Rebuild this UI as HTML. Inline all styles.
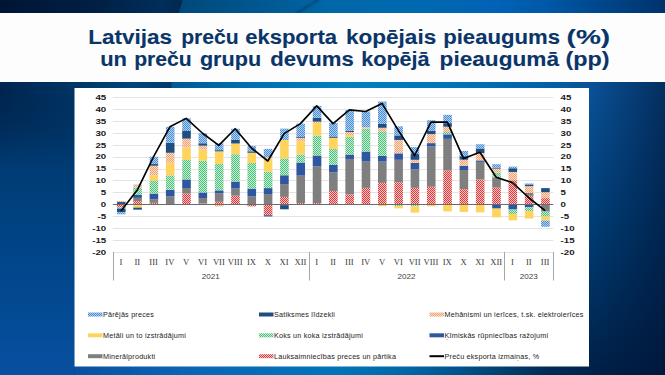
<!DOCTYPE html>
<html><head><meta charset="utf-8"><style>
html,body{margin:0;padding:0;width:665px;height:375px;overflow:hidden;}
body{position:relative;font-family:"Liberation Sans",sans-serif;background:#003a78;}
#bg{position:absolute;left:0;top:0;width:665px;height:375px;}
#band{position:absolute;left:0;top:13px;width:665px;height:68.7px;background:#fdfdfd;}
.t{position:absolute;right:54px;transform:scaleX(1.172);transform-origin:100% 50%;font-weight:bold;color:#08386c;font-size:19.5px;white-space:nowrap;line-height:20px;-webkit-text-stroke:0.35px #08386c;}
#panel{position:absolute;left:75px;top:88px;width:514px;height:278px;background:#fff;}
#chart{position:absolute;left:0;top:0;}
.tt{font-family:"Liberation Sans",sans-serif;font-weight:bold;font-size:19.5px;fill:#0a3568;stroke:#0a3568;stroke-width:0.12px;}
.ax{font-family:"Liberation Sans",sans-serif;font-weight:bold;font-size:7.6px;fill:#1a1a1a;}
.cat{font-family:"Liberation Sans",sans-serif;font-size:8.1px;fill:#404040;}
.rom{font-family:"Liberation Serif",serif;font-size:8.6px;fill:#3a3a3a;}
.lg{font-family:"Liberation Sans",sans-serif;font-size:7.2px;fill:#222;letter-spacing:0.22px;}
</style></head><body>
<svg id="bg" width="665" height="375" viewBox="0 0 665 375">
<defs>
<linearGradient id="gTop" x1="0" y1="0" x2="665" y2="0" gradientUnits="userSpaceOnUse">
<stop offset="0.27" stop-color="#00487a"/><stop offset="0.44" stop-color="#005e9a"/>
<stop offset="0.5" stop-color="#0068a8"/><stop offset="0.63" stop-color="#0068b0"/><stop offset="0.75" stop-color="#0062b5"/>
<stop offset="0.82" stop-color="#0058a8"/><stop offset="1" stop-color="#00326c"/>
</linearGradient>
<linearGradient id="gTopL" x1="0" y1="0" x2="183" y2="0" gradientUnits="userSpaceOnUse">
<stop offset="0" stop-color="#001535"/><stop offset="0.5" stop-color="#001f42"/><stop offset="0.88" stop-color="#002e5a"/><stop offset="1" stop-color="#002850"/>
</linearGradient>
<linearGradient id="gFadeV" x1="0" y1="0" x2="0" y2="1"><stop offset="0" stop-color="#fff" stop-opacity="1"/><stop offset="1" stop-color="#fff" stop-opacity="0"/></linearGradient>
<mask id="mFade" maskUnits="userSpaceOnUse" x="0" y="88" width="75" height="80"><rect x="0" y="88" width="75" height="80" fill="url(#gFadeV)"/></mask>
<filter id="blur1" x="-20%" y="-50%" width="140%" height="200%"><feGaussianBlur stdDeviation="0.8"/></filter>
<linearGradient id="gStrip" x1="0" y1="0" x2="665" y2="0" gradientUnits="userSpaceOnUse">
<stop offset="0" stop-color="#002550"/><stop offset="0.113" stop-color="#003565"/><stop offset="0.2" stop-color="#004676"/>
<stop offset="0.257" stop-color="#003a6a"/><stop offset="0.259" stop-color="#005a95"/><stop offset="0.376" stop-color="#0070b0"/>
<stop offset="0.526" stop-color="#0080c0"/><stop offset="0.677" stop-color="#0075b8"/><stop offset="0.827" stop-color="#0060a8"/>
<stop offset="0.887" stop-color="#0a5096"/><stop offset="1" stop-color="#00305f"/>
</linearGradient>
<linearGradient id="gLeft" x1="0" y1="88" x2="0" y2="375" gradientUnits="userSpaceOnUse">
<stop offset="0" stop-color="#002752"/><stop offset="0.22" stop-color="#003a70"/><stop offset="0.6" stop-color="#00468a"/><stop offset="1" stop-color="#0850a0"/>
</linearGradient>
<linearGradient id="gRight" x1="0" y1="88" x2="0" y2="375" gradientUnits="userSpaceOnUse">
<stop offset="0" stop-color="#0a5298"/><stop offset="0.45" stop-color="#003f78"/><stop offset="1" stop-color="#002048"/>
</linearGradient>
<linearGradient id="gRightH" x1="589" y1="0" x2="665" y2="0" gradientUnits="userSpaceOnUse">
<stop offset="0" stop-color="#001030" stop-opacity="0"/><stop offset="1" stop-color="#001030" stop-opacity="0.55"/>
</linearGradient>
<linearGradient id="gBot" x1="0" y1="0" x2="665" y2="0" gradientUnits="userSpaceOnUse"><stop offset="0.000" stop-color="#0a4f9a"/><stop offset="0.113" stop-color="#0a50a0"/><stop offset="0.301" stop-color="#0a66b6"/><stop offset="0.501" stop-color="#0074b8"/><stop offset="0.602" stop-color="#0068a8"/><stop offset="0.677" stop-color="#005590"/><stop offset="0.752" stop-color="#004070"/><stop offset="0.827" stop-color="#002a55"/><stop offset="1.000" stop-color="#001a3a"/></linearGradient>
</defs>
<rect x="0" y="0" width="665" height="375" fill="#003a72"/>
<rect x="0" y="0" width="665" height="13" fill="url(#gTop)"/>
<line x1="296" y1="13.5" x2="319" y2="-0.5" stroke="#00406e" stroke-width="1.6" filter="url(#blur1)"/>
<polygon points="0,0 182.6,0 178.7,13 0,13" fill="url(#gTopL)"/>
<rect x="0" y="81" width="665" height="7" fill="url(#gStrip)"/>
<rect x="0" y="88" width="74.5" height="287" fill="url(#gLeft)"/>
<rect x="0" y="88" width="74.5" height="80" fill="url(#gStrip)" mask="url(#mFade)"/>
<rect x="589" y="88" width="76" height="287" fill="url(#gRight)"/>
<rect x="589" y="88" width="76" height="287" fill="url(#gRightH)"/>
<rect x="74.5" y="366" width="514.5" height="9" fill="url(#gBot)"/>
</svg>
<div id="band"></div>
<svg width="665" height="375" style="position:absolute;left:0;top:0;"><text x="88.20" y="44.1" textLength="83.80" lengthAdjust="spacingAndGlyphs" class="tt">Latvijas</text><text x="181.20" y="44.1" textLength="57.60" lengthAdjust="spacingAndGlyphs" class="tt">preču</text><text x="245.20" y="44.1" textLength="91.80" lengthAdjust="spacingAndGlyphs" class="tt">eksporta</text><text x="346.00" y="44.1" textLength="90.20" lengthAdjust="spacingAndGlyphs" class="tt">kopējais</text><text x="443.20" y="44.1" textLength="116.80" lengthAdjust="spacingAndGlyphs" class="tt">pieaugums</text><text x="566.60" y="44.1" textLength="43.60" lengthAdjust="spacingAndGlyphs" class="tt">(%)</text><text x="100.20" y="65.7" textLength="26.80" lengthAdjust="spacingAndGlyphs" class="tt">un</text><text x="134.20" y="65.7" textLength="57.60" lengthAdjust="spacingAndGlyphs" class="tt">preču</text><text x="199.90" y="65.7" textLength="61.20" lengthAdjust="spacingAndGlyphs" class="tt">grupu</text><text x="270.20" y="65.7" textLength="83.60" lengthAdjust="spacingAndGlyphs" class="tt">devums</text><text x="361.20" y="65.7" textLength="68.40" lengthAdjust="spacingAndGlyphs" class="tt">kopējā</text><text x="439.60" y="65.7" textLength="119.40" lengthAdjust="spacingAndGlyphs" class="tt">pieaugumā</text><text x="565.50" y="65.7" textLength="44.10" lengthAdjust="spacingAndGlyphs" class="tt">(pp)</text></svg>
<svg id="chart" width="665" height="375" viewBox="0 0 665 375" style="position:absolute;left:0;top:0;">
<defs><pattern id="pBlue" width="2" height="2" patternUnits="userSpaceOnUse"><rect width="2" height="2" fill="#b0d0f0"/><rect width="1" height="1" fill="#4a8ed6"/><rect x="1" y="1" width="1" height="1" fill="#4a8ed6"/></pattern><pattern id="pGreen" width="2" height="2" patternUnits="userSpaceOnUse"><rect width="2" height="2" fill="#c8eed8"/><rect width="1" height="1" fill="#4cc078"/><rect x="1" y="1" width="1" height="1" fill="#4cc078"/></pattern><pattern id="pOrange" width="2" height="2" patternUnits="userSpaceOnUse"><rect width="2" height="2" fill="#fde0cc"/><rect width="1" height="1" fill="#f0a070"/><rect x="1" y="1" width="1" height="1" fill="#f0a070"/></pattern><pattern id="pRed" width="2" height="2" patternUnits="userSpaceOnUse"><rect width="2" height="2" fill="#f8c8c8"/><rect width="1" height="1" fill="#e03838"/><rect x="1" y="1" width="1" height="1" fill="#e03838"/></pattern></defs>
<rect x="74.5" y="88" width="514.5" height="278.5" fill="#ffffff"/>
<line x1="112.8" y1="252.5" x2="553.3" y2="252.5" stroke="#e4e4e4" stroke-width="1"/>
<line x1="112.8" y1="240.5" x2="553.3" y2="240.5" stroke="#e4e4e4" stroke-width="1"/>
<line x1="112.8" y1="228.5" x2="553.3" y2="228.5" stroke="#e4e4e4" stroke-width="1"/>
<line x1="112.8" y1="216.5" x2="553.3" y2="216.5" stroke="#e4e4e4" stroke-width="1"/>
<line x1="112.8" y1="192.5" x2="553.3" y2="192.5" stroke="#e4e4e4" stroke-width="1"/>
<line x1="112.8" y1="180.5" x2="553.3" y2="180.5" stroke="#e4e4e4" stroke-width="1"/>
<line x1="112.8" y1="169.5" x2="553.3" y2="169.5" stroke="#e4e4e4" stroke-width="1"/>
<line x1="112.8" y1="157.5" x2="553.3" y2="157.5" stroke="#e4e4e4" stroke-width="1"/>
<line x1="112.8" y1="145.5" x2="553.3" y2="145.5" stroke="#e4e4e4" stroke-width="1"/>
<line x1="112.8" y1="133.5" x2="553.3" y2="133.5" stroke="#e4e4e4" stroke-width="1"/>
<line x1="112.8" y1="121.5" x2="553.3" y2="121.5" stroke="#e4e4e4" stroke-width="1"/>
<line x1="112.8" y1="109.5" x2="553.3" y2="109.5" stroke="#e4e4e4" stroke-width="1"/>
<line x1="112.8" y1="97.5" x2="553.3" y2="97.5" stroke="#e4e4e4" stroke-width="1"/>
<rect x="116.96" y="204.30" width="8.6" height="3.21" fill="url(#pRed)"/>
<rect x="116.96" y="201.92" width="8.6" height="2.38" fill="#2f56a0"/>
<rect x="116.96" y="207.51" width="8.6" height="1.07" fill="url(#pGreen)"/>
<rect x="116.96" y="200.97" width="8.6" height="0.95" fill="url(#pOrange)"/>
<rect x="116.96" y="208.58" width="8.6" height="3.57" fill="#1f4f82"/>
<rect x="116.96" y="212.15" width="8.6" height="2.14" fill="url(#pBlue)"/>
<rect x="133.27" y="201.09" width="8.6" height="3.21" fill="url(#pRed)"/>
<rect x="133.27" y="197.87" width="8.6" height="3.21" fill="#7f7f7f"/>
<rect x="133.27" y="194.66" width="8.6" height="3.21" fill="#2f56a0"/>
<rect x="133.27" y="187.76" width="8.6" height="6.90" fill="url(#pGreen)"/>
<rect x="133.27" y="204.30" width="8.6" height="3.33" fill="#ffd45c"/>
<rect x="133.27" y="185.14" width="8.6" height="2.62" fill="url(#pOrange)"/>
<rect x="133.27" y="207.63" width="8.6" height="2.02" fill="#1f4f82"/>
<rect x="133.27" y="184.67" width="8.6" height="0.48" fill="url(#pBlue)"/>
<rect x="149.59" y="202.87" width="8.6" height="1.43" fill="url(#pRed)"/>
<rect x="149.59" y="199.30" width="8.6" height="3.57" fill="#7f7f7f"/>
<rect x="149.59" y="193.59" width="8.6" height="5.71" fill="#2f56a0"/>
<rect x="149.59" y="180.50" width="8.6" height="13.09" fill="url(#pGreen)"/>
<rect x="149.59" y="175.26" width="8.6" height="5.24" fill="#ffd45c"/>
<rect x="149.59" y="165.74" width="8.6" height="9.52" fill="url(#pOrange)"/>
<rect x="149.59" y="164.08" width="8.6" height="1.67" fill="#1f4f82"/>
<rect x="149.59" y="156.70" width="8.6" height="7.38" fill="url(#pBlue)"/>
<rect x="165.90" y="196.45" width="8.6" height="7.85" fill="#7f7f7f"/>
<rect x="165.90" y="189.78" width="8.6" height="6.66" fill="#2f56a0"/>
<rect x="165.90" y="175.38" width="8.6" height="14.40" fill="url(#pGreen)"/>
<rect x="165.90" y="162.77" width="8.6" height="12.61" fill="#ffd45c"/>
<rect x="165.90" y="152.77" width="8.6" height="10.00" fill="url(#pOrange)"/>
<rect x="165.90" y="142.78" width="8.6" height="10.00" fill="#1f4f82"/>
<rect x="165.90" y="126.83" width="8.6" height="15.95" fill="url(#pBlue)"/>
<rect x="182.22" y="193.59" width="8.6" height="10.71" fill="url(#pRed)"/>
<rect x="182.22" y="188.00" width="8.6" height="5.59" fill="#7f7f7f"/>
<rect x="182.22" y="179.43" width="8.6" height="8.57" fill="#2f56a0"/>
<rect x="182.22" y="160.03" width="8.6" height="19.40" fill="url(#pGreen)"/>
<rect x="182.22" y="147.42" width="8.6" height="12.61" fill="#ffd45c"/>
<rect x="182.22" y="138.61" width="8.6" height="8.81" fill="url(#pOrange)"/>
<rect x="182.22" y="131.00" width="8.6" height="7.62" fill="#1f4f82"/>
<rect x="182.22" y="118.38" width="8.6" height="12.61" fill="url(#pBlue)"/>
<rect x="198.53" y="203.59" width="8.6" height="0.71" fill="url(#pRed)"/>
<rect x="198.53" y="197.99" width="8.6" height="5.59" fill="#7f7f7f"/>
<rect x="198.53" y="192.52" width="8.6" height="5.47" fill="#2f56a0"/>
<rect x="198.53" y="160.87" width="8.6" height="31.65" fill="url(#pGreen)"/>
<rect x="198.53" y="149.68" width="8.6" height="11.19" fill="#ffd45c"/>
<rect x="198.53" y="145.63" width="8.6" height="4.05" fill="url(#pOrange)"/>
<rect x="198.53" y="143.25" width="8.6" height="2.38" fill="#1f4f82"/>
<rect x="198.53" y="133.26" width="8.6" height="10.00" fill="url(#pBlue)"/>
<rect x="214.85" y="201.80" width="8.6" height="2.50" fill="url(#pRed)"/>
<rect x="214.85" y="193.23" width="8.6" height="8.57" fill="#7f7f7f"/>
<rect x="214.85" y="190.38" width="8.6" height="2.86" fill="#2f56a0"/>
<rect x="214.85" y="163.96" width="8.6" height="26.42" fill="url(#pGreen)"/>
<rect x="214.85" y="151.35" width="8.6" height="12.61" fill="#ffd45c"/>
<rect x="214.85" y="204.30" width="8.6" height="2.14" fill="url(#pOrange)"/>
<rect x="214.85" y="150.16" width="8.6" height="1.19" fill="#1f4f82"/>
<rect x="214.85" y="143.25" width="8.6" height="6.90" fill="url(#pBlue)"/>
<rect x="231.16" y="195.73" width="8.6" height="8.57" fill="url(#pRed)"/>
<rect x="231.16" y="188.47" width="8.6" height="7.26" fill="#7f7f7f"/>
<rect x="231.16" y="181.57" width="8.6" height="6.90" fill="#2f56a0"/>
<rect x="231.16" y="154.20" width="8.6" height="27.37" fill="url(#pGreen)"/>
<rect x="231.16" y="143.49" width="8.6" height="10.71" fill="#ffd45c"/>
<rect x="231.16" y="139.92" width="8.6" height="3.57" fill="#1f4f82"/>
<rect x="231.16" y="128.74" width="8.6" height="11.19" fill="url(#pBlue)"/>
<rect x="247.48" y="204.30" width="8.6" height="2.14" fill="url(#pRed)"/>
<rect x="247.48" y="196.21" width="8.6" height="8.09" fill="#7f7f7f"/>
<rect x="247.48" y="188.59" width="8.6" height="7.62" fill="#2f56a0"/>
<rect x="247.48" y="163.01" width="8.6" height="25.59" fill="url(#pGreen)"/>
<rect x="247.48" y="152.77" width="8.6" height="10.23" fill="#ffd45c"/>
<rect x="247.48" y="151.34" width="8.6" height="1.43" fill="#1f4f82"/>
<rect x="247.48" y="145.87" width="8.6" height="5.47" fill="url(#pBlue)"/>
<rect x="263.79" y="204.30" width="8.6" height="10.95" fill="url(#pRed)"/>
<rect x="263.79" y="194.07" width="8.6" height="10.23" fill="#7f7f7f"/>
<rect x="263.79" y="188.12" width="8.6" height="5.95" fill="#2f56a0"/>
<rect x="263.79" y="171.69" width="8.6" height="16.42" fill="url(#pGreen)"/>
<rect x="263.79" y="158.60" width="8.6" height="13.09" fill="#ffd45c"/>
<rect x="263.79" y="157.18" width="8.6" height="1.43" fill="url(#pOrange)"/>
<rect x="263.79" y="215.25" width="8.6" height="1.19" fill="#1f4f82"/>
<rect x="263.79" y="148.85" width="8.6" height="8.33" fill="url(#pBlue)"/>
<rect x="280.11" y="196.92" width="8.6" height="7.38" fill="url(#pRed)"/>
<rect x="280.11" y="184.07" width="8.6" height="12.85" fill="#7f7f7f"/>
<rect x="280.11" y="175.26" width="8.6" height="8.81" fill="#2f56a0"/>
<rect x="280.11" y="158.37" width="8.6" height="16.90" fill="url(#pGreen)"/>
<rect x="280.11" y="140.04" width="8.6" height="18.33" fill="#ffd45c"/>
<rect x="280.11" y="204.30" width="8.6" height="0.83" fill="url(#pOrange)"/>
<rect x="280.11" y="205.13" width="8.6" height="4.16" fill="#1f4f82"/>
<rect x="280.11" y="128.62" width="8.6" height="11.42" fill="url(#pBlue)"/>
<rect x="296.42" y="202.99" width="8.6" height="1.31" fill="url(#pRed)"/>
<rect x="296.42" y="175.62" width="8.6" height="27.37" fill="#7f7f7f"/>
<rect x="296.42" y="162.53" width="8.6" height="13.09" fill="#2f56a0"/>
<rect x="296.42" y="154.44" width="8.6" height="8.09" fill="url(#pGreen)"/>
<rect x="296.42" y="141.23" width="8.6" height="13.21" fill="#ffd45c"/>
<rect x="296.42" y="137.90" width="8.6" height="3.33" fill="url(#pOrange)"/>
<rect x="296.42" y="137.06" width="8.6" height="0.83" fill="#1f4f82"/>
<rect x="296.42" y="123.62" width="8.6" height="13.45" fill="url(#pBlue)"/>
<rect x="312.74" y="203.11" width="8.6" height="1.19" fill="url(#pRed)"/>
<rect x="312.74" y="166.22" width="8.6" height="36.89" fill="#7f7f7f"/>
<rect x="312.74" y="155.51" width="8.6" height="10.71" fill="#2f56a0"/>
<rect x="312.74" y="135.52" width="8.6" height="19.99" fill="url(#pGreen)"/>
<rect x="312.74" y="123.02" width="8.6" height="12.50" fill="#ffd45c"/>
<rect x="312.74" y="121.60" width="8.6" height="1.43" fill="url(#pOrange)"/>
<rect x="312.74" y="117.79" width="8.6" height="3.81" fill="#1f4f82"/>
<rect x="312.74" y="105.89" width="8.6" height="11.90" fill="url(#pBlue)"/>
<rect x="329.05" y="190.97" width="8.6" height="13.33" fill="url(#pRed)"/>
<rect x="329.05" y="172.41" width="8.6" height="18.56" fill="#7f7f7f"/>
<rect x="329.05" y="164.91" width="8.6" height="7.50" fill="#2f56a0"/>
<rect x="329.05" y="148.97" width="8.6" height="15.95" fill="url(#pGreen)"/>
<rect x="329.05" y="137.78" width="8.6" height="11.19" fill="#ffd45c"/>
<rect x="329.05" y="204.30" width="8.6" height="0.71" fill="url(#pOrange)"/>
<rect x="329.05" y="136.47" width="8.6" height="1.31" fill="#1f4f82"/>
<rect x="329.05" y="122.90" width="8.6" height="13.57" fill="url(#pBlue)"/>
<rect x="345.36" y="194.42" width="8.6" height="9.88" fill="url(#pRed)"/>
<rect x="345.36" y="158.96" width="8.6" height="35.46" fill="#7f7f7f"/>
<rect x="345.36" y="154.56" width="8.6" height="4.40" fill="#2f56a0"/>
<rect x="345.36" y="136.83" width="8.6" height="17.73" fill="url(#pGreen)"/>
<rect x="345.36" y="135.04" width="8.6" height="1.78" fill="#ffd45c"/>
<rect x="345.36" y="131.95" width="8.6" height="3.09" fill="url(#pOrange)"/>
<rect x="345.36" y="130.76" width="8.6" height="1.19" fill="#1f4f82"/>
<rect x="345.36" y="109.93" width="8.6" height="20.83" fill="url(#pBlue)"/>
<rect x="361.68" y="187.88" width="8.6" height="16.42" fill="url(#pRed)"/>
<rect x="361.68" y="161.58" width="8.6" height="26.30" fill="#7f7f7f"/>
<rect x="361.68" y="151.58" width="8.6" height="10.00" fill="#2f56a0"/>
<rect x="361.68" y="128.74" width="8.6" height="22.85" fill="url(#pGreen)"/>
<rect x="361.68" y="127.07" width="8.6" height="1.67" fill="url(#pOrange)"/>
<rect x="361.68" y="111.48" width="8.6" height="15.59" fill="url(#pBlue)"/>
<rect x="377.99" y="182.88" width="8.6" height="21.42" fill="url(#pRed)"/>
<rect x="377.99" y="161.58" width="8.6" height="21.30" fill="#7f7f7f"/>
<rect x="377.99" y="155.87" width="8.6" height="5.71" fill="#2f56a0"/>
<rect x="377.99" y="131.23" width="8.6" height="24.63" fill="url(#pGreen)"/>
<rect x="377.99" y="204.30" width="8.6" height="1.90" fill="#ffd45c"/>
<rect x="377.99" y="127.78" width="8.6" height="3.45" fill="url(#pOrange)"/>
<rect x="377.99" y="123.98" width="8.6" height="3.81" fill="#1f4f82"/>
<rect x="377.99" y="101.48" width="8.6" height="22.49" fill="url(#pBlue)"/>
<rect x="394.31" y="182.17" width="8.6" height="22.13" fill="url(#pRed)"/>
<rect x="394.31" y="159.79" width="8.6" height="22.37" fill="#7f7f7f"/>
<rect x="394.31" y="153.37" width="8.6" height="6.43" fill="#2f56a0"/>
<rect x="394.31" y="204.30" width="8.6" height="1.90" fill="url(#pGreen)"/>
<rect x="394.31" y="206.20" width="8.6" height="2.14" fill="#ffd45c"/>
<rect x="394.31" y="139.92" width="8.6" height="13.45" fill="url(#pOrange)"/>
<rect x="394.31" y="135.40" width="8.6" height="4.52" fill="#1f4f82"/>
<rect x="394.31" y="126.36" width="8.6" height="9.04" fill="url(#pBlue)"/>
<rect x="410.62" y="187.88" width="8.6" height="16.42" fill="url(#pRed)"/>
<rect x="410.62" y="169.31" width="8.6" height="18.56" fill="#7f7f7f"/>
<rect x="410.62" y="163.01" width="8.6" height="6.31" fill="#2f56a0"/>
<rect x="410.62" y="204.30" width="8.6" height="2.14" fill="url(#pGreen)"/>
<rect x="410.62" y="206.44" width="8.6" height="6.19" fill="#ffd45c"/>
<rect x="410.62" y="159.79" width="8.6" height="3.21" fill="url(#pOrange)"/>
<rect x="410.62" y="154.08" width="8.6" height="5.71" fill="#1f4f82"/>
<rect x="410.62" y="147.18" width="8.6" height="6.90" fill="url(#pBlue)"/>
<rect x="426.94" y="186.81" width="8.6" height="17.49" fill="url(#pRed)"/>
<rect x="426.94" y="146.59" width="8.6" height="40.22" fill="#7f7f7f"/>
<rect x="426.94" y="143.13" width="8.6" height="3.45" fill="#2f56a0"/>
<rect x="426.94" y="204.30" width="8.6" height="2.02" fill="#ffd45c"/>
<rect x="426.94" y="134.09" width="8.6" height="9.04" fill="url(#pOrange)"/>
<rect x="426.94" y="130.88" width="8.6" height="3.21" fill="#1f4f82"/>
<rect x="426.94" y="120.17" width="8.6" height="10.71" fill="url(#pBlue)"/>
<rect x="443.25" y="170.50" width="8.6" height="33.80" fill="url(#pRed)"/>
<rect x="443.25" y="138.85" width="8.6" height="31.65" fill="#7f7f7f"/>
<rect x="443.25" y="134.33" width="8.6" height="4.52" fill="#2f56a0"/>
<rect x="443.25" y="131.95" width="8.6" height="2.38" fill="url(#pGreen)"/>
<rect x="443.25" y="204.30" width="8.6" height="7.14" fill="#ffd45c"/>
<rect x="443.25" y="126.71" width="8.6" height="5.24" fill="url(#pOrange)"/>
<rect x="443.25" y="123.14" width="8.6" height="3.57" fill="#1f4f82"/>
<rect x="443.25" y="114.81" width="8.6" height="8.33" fill="url(#pBlue)"/>
<rect x="459.57" y="189.19" width="8.6" height="15.11" fill="url(#pRed)"/>
<rect x="459.57" y="170.03" width="8.6" height="19.16" fill="#7f7f7f"/>
<rect x="459.57" y="165.74" width="8.6" height="4.28" fill="#2f56a0"/>
<rect x="459.57" y="204.30" width="8.6" height="7.62" fill="#ffd45c"/>
<rect x="459.57" y="159.68" width="8.6" height="6.07" fill="url(#pOrange)"/>
<rect x="459.57" y="156.22" width="8.6" height="3.45" fill="#1f4f82"/>
<rect x="459.57" y="150.99" width="8.6" height="5.24" fill="url(#pBlue)"/>
<rect x="475.88" y="179.55" width="8.6" height="24.75" fill="url(#pRed)"/>
<rect x="475.88" y="161.82" width="8.6" height="17.73" fill="#7f7f7f"/>
<rect x="475.88" y="160.39" width="8.6" height="1.43" fill="#2f56a0"/>
<rect x="475.88" y="204.30" width="8.6" height="8.09" fill="#ffd45c"/>
<rect x="475.88" y="153.01" width="8.6" height="7.38" fill="url(#pOrange)"/>
<rect x="475.88" y="148.49" width="8.6" height="4.52" fill="#1f4f82"/>
<rect x="475.88" y="144.21" width="8.6" height="4.28" fill="url(#pBlue)"/>
<rect x="492.20" y="187.64" width="8.6" height="16.66" fill="url(#pRed)"/>
<rect x="492.20" y="177.29" width="8.6" height="10.35" fill="#7f7f7f"/>
<rect x="492.20" y="204.30" width="8.6" height="4.28" fill="#2f56a0"/>
<rect x="492.20" y="172.88" width="8.6" height="4.40" fill="url(#pGreen)"/>
<rect x="492.20" y="208.58" width="8.6" height="8.81" fill="#ffd45c"/>
<rect x="492.20" y="168.60" width="8.6" height="4.28" fill="url(#pOrange)"/>
<rect x="492.20" y="167.65" width="8.6" height="0.95" fill="#1f4f82"/>
<rect x="492.20" y="164.20" width="8.6" height="3.45" fill="url(#pBlue)"/>
<rect x="508.51" y="180.26" width="8.6" height="24.04" fill="url(#pRed)"/>
<rect x="508.51" y="204.30" width="8.6" height="5.24" fill="#2f56a0"/>
<rect x="508.51" y="209.54" width="8.6" height="4.40" fill="url(#pGreen)"/>
<rect x="508.51" y="213.94" width="8.6" height="6.43" fill="#ffd45c"/>
<rect x="508.51" y="171.93" width="8.6" height="8.33" fill="url(#pOrange)"/>
<rect x="508.51" y="168.24" width="8.6" height="3.69" fill="#1f4f82"/>
<rect x="508.51" y="166.58" width="8.6" height="1.67" fill="url(#pBlue)"/>
<rect x="524.83" y="195.85" width="8.6" height="8.45" fill="url(#pRed)"/>
<rect x="524.83" y="193.00" width="8.6" height="2.86" fill="#7f7f7f"/>
<rect x="524.83" y="204.30" width="8.6" height="2.97" fill="#2f56a0"/>
<rect x="524.83" y="207.28" width="8.6" height="3.69" fill="url(#pGreen)"/>
<rect x="524.83" y="210.96" width="8.6" height="7.62" fill="#ffd45c"/>
<rect x="524.83" y="186.09" width="8.6" height="6.90" fill="url(#pOrange)"/>
<rect x="524.83" y="184.43" width="8.6" height="1.67" fill="#1f4f82"/>
<rect x="524.83" y="183.48" width="8.6" height="0.95" fill="url(#pBlue)"/>
<rect x="541.14" y="198.11" width="8.6" height="6.19" fill="url(#pRed)"/>
<rect x="541.14" y="204.30" width="8.6" height="7.38" fill="#7f7f7f"/>
<rect x="541.14" y="211.68" width="8.6" height="4.88" fill="url(#pGreen)"/>
<rect x="541.14" y="216.56" width="8.6" height="4.05" fill="#ffd45c"/>
<rect x="541.14" y="192.16" width="8.6" height="5.95" fill="url(#pOrange)"/>
<rect x="541.14" y="188.12" width="8.6" height="4.05" fill="#1f4f82"/>
<rect x="541.14" y="220.60" width="8.6" height="6.19" fill="url(#pBlue)"/>
<line x1="112.8" y1="204.5" x2="553.3" y2="204.5" stroke="#6b6b6b" stroke-width="1"/>
<polyline points="120.96,210.96 137.27,190.02 153.59,156.70 169.90,126.83 186.22,118.38 202.53,133.26 218.85,145.40 235.16,128.74 251.48,148.01 267.79,160.98 284.11,133.61 300.42,123.62 316.74,105.89 333.05,123.62 349.36,109.93 365.68,111.48 381.99,103.39 398.31,130.40 414.62,155.51 430.94,122.19 447.25,121.95 463.57,158.60 479.88,152.30 496.20,177.29 512.51,182.64 528.83,197.76 545.14,210.61" fill="none" stroke="#000" stroke-width="1.65" stroke-linejoin="round"/>
<g transform="translate(106.2,254.60) scale(1.28,1)"><text x="0" y="0" class="ax" text-anchor="end">-20</text></g>
<g transform="translate(560.6,254.60) scale(1.28,1)"><text x="0" y="0" class="ax" text-anchor="start">-20</text></g>
<g transform="translate(106.2,242.70) scale(1.28,1)"><text x="0" y="0" class="ax" text-anchor="end">-15</text></g>
<g transform="translate(560.6,242.70) scale(1.28,1)"><text x="0" y="0" class="ax" text-anchor="start">-15</text></g>
<g transform="translate(106.2,230.80) scale(1.28,1)"><text x="0" y="0" class="ax" text-anchor="end">-10</text></g>
<g transform="translate(560.6,230.80) scale(1.28,1)"><text x="0" y="0" class="ax" text-anchor="start">-10</text></g>
<g transform="translate(106.2,218.90) scale(1.28,1)"><text x="0" y="0" class="ax" text-anchor="end">-5</text></g>
<g transform="translate(560.6,218.90) scale(1.28,1)"><text x="0" y="0" class="ax" text-anchor="start">-5</text></g>
<g transform="translate(106.2,207.00) scale(1.28,1)"><text x="0" y="0" class="ax" text-anchor="end">0</text></g>
<g transform="translate(560.6,207.00) scale(1.28,1)"><text x="0" y="0" class="ax" text-anchor="start">0</text></g>
<g transform="translate(106.2,195.10) scale(1.28,1)"><text x="0" y="0" class="ax" text-anchor="end">5</text></g>
<g transform="translate(560.6,195.10) scale(1.28,1)"><text x="0" y="0" class="ax" text-anchor="start">5</text></g>
<g transform="translate(106.2,183.20) scale(1.28,1)"><text x="0" y="0" class="ax" text-anchor="end">10</text></g>
<g transform="translate(560.6,183.20) scale(1.28,1)"><text x="0" y="0" class="ax" text-anchor="start">10</text></g>
<g transform="translate(106.2,171.30) scale(1.28,1)"><text x="0" y="0" class="ax" text-anchor="end">15</text></g>
<g transform="translate(560.6,171.30) scale(1.28,1)"><text x="0" y="0" class="ax" text-anchor="start">15</text></g>
<g transform="translate(106.2,159.40) scale(1.28,1)"><text x="0" y="0" class="ax" text-anchor="end">20</text></g>
<g transform="translate(560.6,159.40) scale(1.28,1)"><text x="0" y="0" class="ax" text-anchor="start">20</text></g>
<g transform="translate(106.2,147.50) scale(1.28,1)"><text x="0" y="0" class="ax" text-anchor="end">25</text></g>
<g transform="translate(560.6,147.50) scale(1.28,1)"><text x="0" y="0" class="ax" text-anchor="start">25</text></g>
<g transform="translate(106.2,135.60) scale(1.28,1)"><text x="0" y="0" class="ax" text-anchor="end">30</text></g>
<g transform="translate(560.6,135.60) scale(1.28,1)"><text x="0" y="0" class="ax" text-anchor="start">30</text></g>
<g transform="translate(106.2,123.70) scale(1.28,1)"><text x="0" y="0" class="ax" text-anchor="end">35</text></g>
<g transform="translate(560.6,123.70) scale(1.28,1)"><text x="0" y="0" class="ax" text-anchor="start">35</text></g>
<g transform="translate(106.2,111.80) scale(1.28,1)"><text x="0" y="0" class="ax" text-anchor="end">40</text></g>
<g transform="translate(560.6,111.80) scale(1.28,1)"><text x="0" y="0" class="ax" text-anchor="start">40</text></g>
<g transform="translate(106.2,99.90) scale(1.28,1)"><text x="0" y="0" class="ax" text-anchor="end">45</text></g>
<g transform="translate(560.6,99.90) scale(1.28,1)"><text x="0" y="0" class="ax" text-anchor="start">45</text></g>
<line x1="113.5" y1="252" x2="113.5" y2="280.5" stroke="#a6a6a6" stroke-width="1"/>
<line x1="309.5" y1="252" x2="309.5" y2="280.5" stroke="#a6a6a6" stroke-width="1"/>
<line x1="504.5" y1="252" x2="504.5" y2="280.5" stroke="#a6a6a6" stroke-width="1"/>
<line x1="553.5" y1="252" x2="553.5" y2="280.5" stroke="#a6a6a6" stroke-width="1"/>
<text x="120.96" y="265" class="rom" text-anchor="middle">I</text>
<text x="137.27" y="265" class="rom" text-anchor="middle">II</text>
<text x="153.59" y="265" class="rom" text-anchor="middle">III</text>
<text x="169.90" y="265" class="rom" text-anchor="middle">IV</text>
<text x="186.22" y="265" class="rom" text-anchor="middle">V</text>
<text x="202.53" y="265" class="rom" text-anchor="middle">VI</text>
<text x="218.85" y="265" class="rom" text-anchor="middle">VII</text>
<text x="235.16" y="265" class="rom" text-anchor="middle">VIII</text>
<text x="251.48" y="265" class="rom" text-anchor="middle">IX</text>
<text x="267.79" y="265" class="rom" text-anchor="middle">X</text>
<text x="284.11" y="265" class="rom" text-anchor="middle">XI</text>
<text x="300.42" y="265" class="rom" text-anchor="middle">XII</text>
<text x="316.74" y="265" class="rom" text-anchor="middle">I</text>
<text x="333.05" y="265" class="rom" text-anchor="middle">II</text>
<text x="349.36" y="265" class="rom" text-anchor="middle">III</text>
<text x="365.68" y="265" class="rom" text-anchor="middle">IV</text>
<text x="381.99" y="265" class="rom" text-anchor="middle">V</text>
<text x="398.31" y="265" class="rom" text-anchor="middle">VI</text>
<text x="414.62" y="265" class="rom" text-anchor="middle">VII</text>
<text x="430.94" y="265" class="rom" text-anchor="middle">VIII</text>
<text x="447.25" y="265" class="rom" text-anchor="middle">IX</text>
<text x="463.57" y="265" class="rom" text-anchor="middle">X</text>
<text x="479.88" y="265" class="rom" text-anchor="middle">XI</text>
<text x="496.20" y="265" class="rom" text-anchor="middle">XII</text>
<text x="512.51" y="265" class="rom" text-anchor="middle">I</text>
<text x="528.83" y="265" class="rom" text-anchor="middle">II</text>
<text x="545.14" y="265" class="rom" text-anchor="middle">III</text>
<text x="210.69" y="278.9" class="cat" text-anchor="middle">2021</text>
<text x="406.47" y="278.9" class="cat" text-anchor="middle">2022</text>
<text x="528.83" y="278.9" class="cat" text-anchor="middle">2023</text>
<rect x="88" y="312.5" width="14.5" height="4" fill="url(#pBlue)"/>
<text x="103" y="317.1" class="lg">Pārējās preces</text>
<rect x="259" y="312.5" width="14.5" height="4" fill="#1f4f82"/>
<text x="274" y="317.1" class="lg">Satiksmes līdzekļi</text>
<rect x="429.5" y="312.5" width="14.5" height="4" fill="url(#pOrange)"/>
<text x="444.5" y="317.1" class="lg">Mehānismi un ierīces, t.sk. elektroierīces</text>
<rect x="88" y="333.3" width="14.5" height="4" fill="#ffd45c"/>
<text x="103" y="337.90000000000003" class="lg">Metāli un to izstrādājumi</text>
<rect x="259" y="333.3" width="14.5" height="4" fill="url(#pGreen)"/>
<text x="274" y="337.90000000000003" class="lg">Koks un koka izstrādājumi</text>
<rect x="429.5" y="333.3" width="14.5" height="4" fill="#2f56a0"/>
<text x="444.5" y="337.90000000000003" class="lg">Ķīmiskās rūpniecības ražojumi</text>
<rect x="88" y="354.2" width="14.5" height="4" fill="#7f7f7f"/>
<text x="103" y="358.8" class="lg">Minerālprodukti</text>
<rect x="259" y="354.2" width="14.5" height="4" fill="url(#pRed)"/>
<text x="274" y="358.8" class="lg">Lauksaimniecības preces un pārtika</text>
<line x1="429.5" y1="356.2" x2="444.0" y2="356.2" stroke="#000" stroke-width="2"/>
<text x="444.5" y="358.8" class="lg">Preču eksporta izmaiņas, %</text>
</svg>
</body></html>
